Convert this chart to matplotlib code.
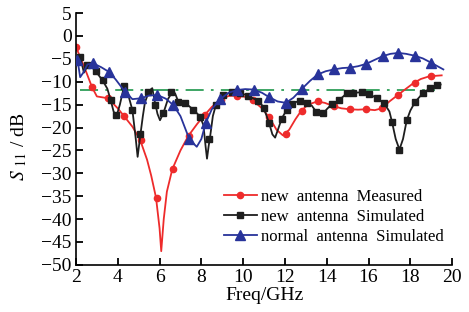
import matplotlib
matplotlib.use("Agg")
import matplotlib.pyplot as plt
from matplotlib.lines import Line2D

plt.rcParams["font.family"] = ["Liberation Serif", "DejaVu Serif"]
plt.rcParams["mathtext.fontset"] = "stix"

# measured, new antenna (red)
meas_f = [2.0, 2.4, 2.77, 3.0, 3.53, 4.0, 4.3, 4.7, 5.07, 5.4, 5.6, 5.83, 6.0, 6.08,
          6.2, 6.35, 6.61, 7.0, 7.38, 7.8, 8.15, 8.5, 8.92, 9.3, 9.69, 10.1, 10.45,
          10.9, 11.25, 11.6, 11.9, 12.2, 12.5, 12.77, 13.1, 13.55, 13.9, 14.32, 14.7,
          15.09, 15.5, 15.87, 16.3, 16.63, 17.0, 17.4, 17.8, 18.15, 18.5, 18.91, 19.5]
meas_db = [-2.4, -6.8, -11.2, -13.2, -13.6, -15.8, -17.5, -19.8, -22.7, -27.0, -30.5,
           -35.3, -42.0, -47.0, -40.0, -34.0, -29.1, -25.0, -21.8, -19.2, -17.3, -15.5,
           -13.9, -13.1, -13.0, -13.3, -14.0, -15.8, -17.8, -20.5, -21.7, -20.5, -18.2,
           -16.4, -15.0, -14.3, -14.6, -15.3, -15.8, -16.0, -16.1, -16.0, -16.2, -15.8,
           -14.3, -12.9, -11.5, -10.3, -9.4, -8.8, -8.6]
meas_mk_f = [2.0, 2.77, 3.54, 4.31, 5.09, 5.86, 6.63, 7.40, 8.17, 8.94, 9.71, 10.49,
             11.26, 12.03, 12.80, 13.57, 14.34, 15.11, 15.89, 16.66, 17.43, 18.20, 18.97]
meas_mk_db = [-2.4, -11.2, -13.6, -17.5, -22.7, -35.3, -29.1, -21.8, -17.3, -13.9, -13.1,
              -14.0, -17.8, -21.5, -16.4, -14.3, -15.3, -16.0, -16.0, -15.8, -12.9, -10.3, -8.8]

# simulated, new antenna (black)
sim_f = [2.0, 2.12, 2.25, 2.38, 2.55, 2.7, 2.94, 3.26, 3.5, 3.66, 3.8, 3.94, 4.1, 4.3,
         4.45, 4.7, 4.85, 4.95, 5.07, 5.2, 5.3, 5.5, 5.65, 5.78, 5.9, 6.02, 6.18, 6.4,
         6.6, 6.74, 6.9, 7.22, 7.62, 7.94, 8.1, 8.2, 8.27, 8.35, 8.41, 8.55, 8.7, 9.05,
         9.45, 9.85, 10.25, 10.73, 10.97, 11.24, 11.4, 11.53, 11.7, 11.85, 12.0, 12.32,
         12.72, 13.04, 13.28, 13.49, 13.68, 13.84, 14.0, 14.24, 14.6, 14.96, 15.28,
         15.68, 16.04, 16.4, 16.75, 17.0, 17.12, 17.3, 17.48, 17.65, 17.83, 18.0, 18.23,
         18.6, 18.95, 19.3, 19.45]
sim_db = [-5.8, -4.3, -5.5, -8.0, -6.5, -6.5, -7.7, -9.6, -11.5, -14.0, -16.5, -17.5,
          -15.0, -11.0, -12.0, -16.2, -22.0, -26.4, -22.0, -17.5, -14.5, -12.0, -11.4,
          -14.5, -17.0, -18.4, -16.9, -13.8, -12.3, -12.5, -14.4, -14.6, -16.1, -17.6,
          -19.5, -24.0, -26.8, -24.0, -22.3, -17.5, -15.0, -12.9, -12.3, -12.4, -13.1,
          -14.2, -15.5, -19.0, -21.5, -22.2, -20.0, -18.0, -16.8, -14.8, -14.1, -14.6,
          -15.2, -16.5, -17.2, -16.9, -16.0, -14.9, -14.0, -12.5, -12.4, -12.3, -12.7,
          -13.6, -14.7, -16.5, -18.7, -22.5, -24.8, -22.5, -18.4, -16.3, -14.4, -12.5,
          -11.4, -10.7, -10.6]
sim_mk_f = [2.2, 2.54, 2.94, 3.28, 3.66, 3.92, 4.3, 4.7, 5.07, 5.47, 5.78, 6.18, 6.55,
            6.9, 7.22, 7.62, 7.94, 8.37, 8.7, 9.05, 9.45, 9.85, 10.25, 10.73, 11.0, 11.26,
            11.85, 12.08, 12.32, 12.72, 13.04, 13.49, 13.84, 14.24, 14.6, 14.96, 15.28,
            15.68, 16.04, 16.4, 16.75, 17.12, 17.48, 17.83, 18.23, 18.6, 18.95, 19.3]
sim_mk_db = [-4.5, -6.4, -7.7, -9.7, -14.0, -17.2, -11.0, -16.2, -21.5, -12.2, -15.0,
             -16.9, -12.3, -14.4, -14.6, -16.1, -17.6, -22.4, -15.0, -12.9, -12.3, -12.4,
             -13.1, -14.2, -15.7, -19.1, -18.2, -16.2, -14.8, -14.1, -14.6, -16.5, -16.9,
             -14.9, -14.0, -12.5, -12.4, -12.3, -12.7, -13.6, -14.7, -18.7, -24.8, -18.4,
             -14.4, -12.5, -11.4, -10.7]

# simulated, normal antenna (blue)
norm_f = [2.0, 2.1, 2.2, 2.35, 2.55, 2.83, 3.2, 3.6, 3.9, 4.35, 4.7, 5.12, 5.5, 5.9,
          6.3, 6.66, 7.0, 7.43, 7.78, 8.0, 8.2, 8.5, 8.9, 9.3, 9.72, 10.1, 10.5, 10.9,
          11.26, 11.65, 12.04, 12.4, 12.8, 13.2, 13.57, 13.95, 14.35, 14.75, 15.12, 15.5,
          15.88, 16.3, 16.68, 17.05, 17.43, 17.8, 18.2, 18.6, 18.98, 19.3, 19.58]
norm_db = [-5.5, -6.0, -9.0, -8.0, -6.2, -6.0, -6.8, -7.9, -9.5, -12.2, -13.8, -13.6,
           -13.0, -12.9, -13.7, -15.1, -17.5, -22.6, -24.2, -22.5, -19.1, -16.0, -13.8,
           -12.4, -11.8, -11.6, -11.7, -12.4, -13.4, -14.3, -14.6, -13.5, -11.6, -9.8,
           -8.4, -7.7, -7.3, -7.0, -6.9, -6.6, -6.1, -5.2, -4.4, -3.9, -3.7, -3.9, -4.3,
           -4.9, -5.8, -6.6, -7.3]
norm_mk_f = [2.06, 2.83, 3.6, 4.35, 5.12, 5.9, 6.66, 7.43, 8.2, 8.9, 9.72, 10.5, 11.26,
             12.04, 12.8, 13.57, 14.35, 15.12, 15.88, 16.68, 17.43, 18.2, 18.98]
norm_mk_db = [-5.3, -6.0, -7.9, -12.2, -13.5, -12.9, -15.1, -22.6, -19.1, -13.8, -11.8,
              -11.7, -13.4, -14.6, -11.6, -8.4, -7.3, -6.9, -6.1, -4.4, -3.7, -4.3, -5.8]

# reference level
ref_f = [2.2, 19.2]
ref_db = [-11.7, -11.7]

labels = ["new antenna Measured", "new antenna Simulated", "normal antenna Simulated"]

red = "#ee2b2b"
black = "#1e1e1e"
blue = "#28339a"
green = "#2e9e58"

fig = plt.figure(figsize=(4.69, 3.12), dpi=100)
ax = fig.add_axes([0.162, 0.151, 0.802, 0.807])

ax.plot(ref_f, ref_db, color=green, lw=1.3, dashes=(10, 4, 1.5, 4), zorder=1)
ax.plot(meas_f, meas_db, color=red, lw=1.3, zorder=2)
ax.plot(meas_mk_f, meas_mk_db, ls="none", marker="o", ms=4.5, color=red, zorder=2)
ax.plot(sim_f, sim_db, color=black, lw=1.3, zorder=3)
ax.plot(sim_mk_f, sim_mk_db, ls="none", marker="s", ms=4, color=black, zorder=3)
ax.plot(norm_f, norm_db, color=blue, lw=1.3, zorder=4)
ax.plot(norm_mk_f, norm_mk_db, ls="none", marker="^", ms=6.5, color=blue, zorder=4)

handles = [Line2D([], [], color=red, lw=1.3, marker="o", ms=4.5),
           Line2D([], [], color=black, lw=1.3, marker="s", ms=4),
           Line2D([], [], color=blue, lw=1.3, marker="^", ms=6.5)]
ax.legend(handles, [l.replace(" ", "  ") for l in labels], loc="lower right",
          bbox_to_anchor=(1.0, 0.045), frameon=False, fontsize=12,
          handlelength=2.0, handletextpad=0.25, labelspacing=0.25, borderpad=0)

ax.set_xlim(2, 20)
ax.set_ylim(-50, 5)
ax.set_xticks(range(2, 21, 2))
ax.set_yticks(range(-50, 6, 5))
ax.spines["top"].set_visible(False)
ax.spines["right"].set_visible(False)
for s in ("left", "bottom"):
    ax.spines[s].set_linewidth(1.2)
ax.tick_params(direction="in", length=5, width=1.3, labelsize=14, pad=3)

ax.set_xlabel("Freq/GHz", fontsize=14, labelpad=1)
ax.set_ylabel(r"$\mathit{S}$ $_{11}$ / dB", fontsize=14)
ax.yaxis.set_label_coords(-0.125, 0.47)

fig.savefig("out.png", dpi=100)
